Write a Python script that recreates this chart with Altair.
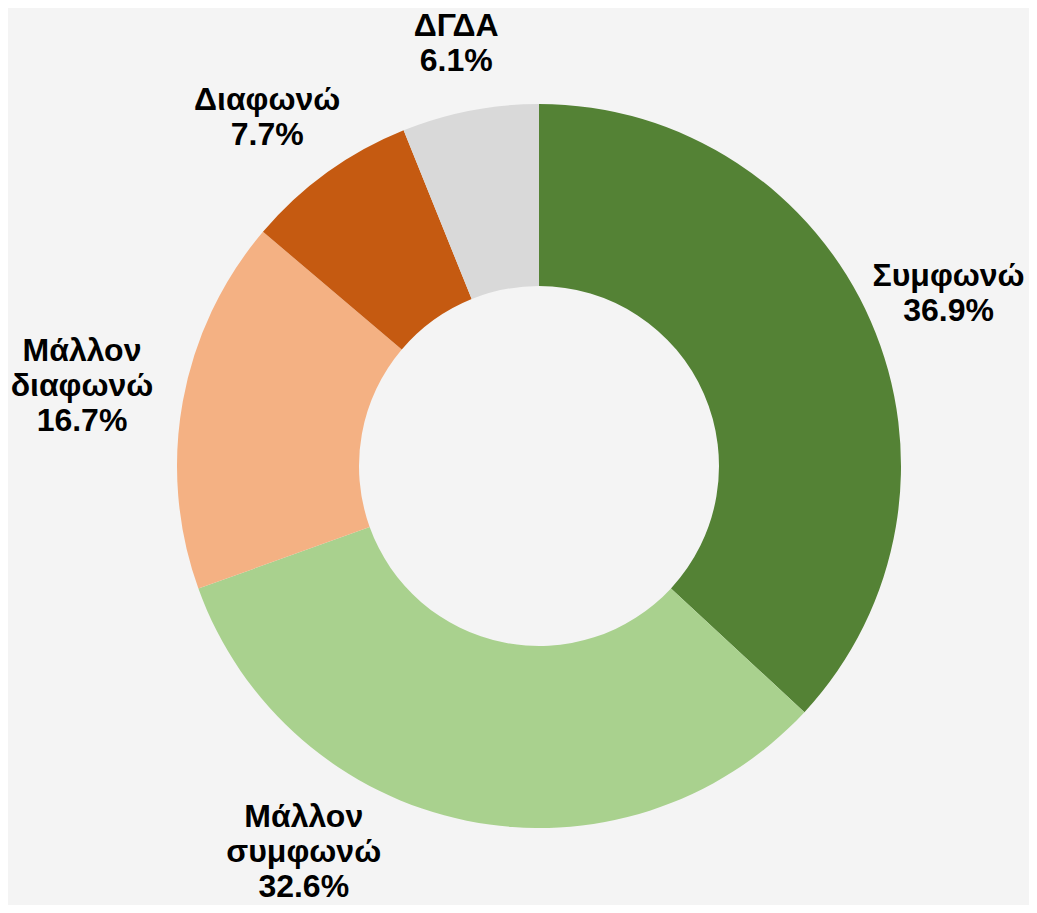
import altair as alt
import pandas as pd

categories = ["Συμφωνώ", "Μάλλον συμφωνώ", "Μάλλον διαφωνώ", "Διαφωνώ", "ΔΓΔΑ"]
display_names = ["Συμφωνώ", "Μάλλον\nσυμφωνώ", "Μάλλον\nδιαφωνώ", "Διαφωνώ", "ΔΓΔΑ"]
values = [36.9, 32.6, 16.7, 7.7, 6.1]
colors = ["#548235", "#a9d18e", "#f4b183", "#c55a11", "#d9d9d9"]

df = pd.DataFrame({
    "cat": categories,
    "name": display_names,
    "value": values,
    "idx": list(range(len(categories))),
})

W, H = 1021, 897
CX, CY = 531, 458
R_OUT, R_IN = 362, 180
R0 = 395          # label anchor radius
RC = 372          # clearance radius when a label is pushed inside the frame
FS, LH = 32, 35   # font size, line height
CW = 0.62 * FS    # approx char width
YMAX = 896        # max bottom of label box
XMAX = 1010       # max right of label box

base = alt.Chart(df)

arcs = base.mark_arc(innerRadius=R_IN, outerRadius=R_OUT, stroke=None).encode(
    theta=alt.Theta("value:Q", stack=True),
    order=alt.Order("idx:O"),
    color=alt.Color("cat:N", scale=alt.Scale(domain=categories, range=colors), legend=None),
    x=alt.value(CX),
    y=alt.value(CY),
)

labels = base.transform_window(
    cum="sum(value)", sort=[alt.SortField("idx")], frame=[None, 0]
).transform_joinaggregate(
    total="sum(value)"
).transform_calculate(
    mid="(datum.cum - datum.value/2) / datum.total * 2 * PI",
    s="sin(datum.mid)",
    c="cos(datum.mid)",
    label="datum.name + '\\n' + format(datum.value, '.1f') + '%'",
).transform_calculate(
    parts="split(datum.label, '\\n')",
).transform_calculate(
    n="length(datum.parts)",
    mc="max(length(datum.parts[0]), length(datum.parts[1]), length(datum.parts) > 2 ? length(datum.parts[2]) : 0)",
).transform_calculate(
    w=f"datum.mc * {CW}",
    h=f"datum.n * {LH}",
).transform_calculate(
    bx=f"min({CX} + ({R0} + datum.w/2) * datum.s, {XMAX} - datum.w/2)",
    by=f"{CY} - {R0} * datum.c - datum.h/2 * datum.c",
).transform_calculate(
    clamped=f"datum.by > {YMAX} - datum.h/2",
    by2=f"min(datum.by, {YMAX} - datum.h/2)",
).transform_calculate(
    bx2=f"datum.clamped ? {CX} + (datum.s < 0 ? -1 : 1) * (sqrt(max(0, {RC}*{RC} - pow(datum.by2 - datum.h/2 - {CY}, 2))) + datum.w/2) : datum.bx",
    ly=f"datum.by2 - (datum.n - 1) * {LH} / 2",
).mark_text(
    font="Liberation Sans", fontSize=FS, fontWeight="bold", color="#000000",
    align="center", baseline="middle", lineBreak="\n", lineHeight=LH,
).encode(
    x=alt.X("bx2:Q", scale=None),
    y=alt.Y("ly:Q", scale=None),
    text="label:N",
)

chart = alt.layer(arcs, labels).properties(
    width=W, height=H,
    autosize=alt.AutoSizeParams(type="none"),
    padding=0,
    background="#f4f4f4",
).configure_view(stroke=None)

chart.save("out.html", embed_options={"renderer": "svg", "actions": False})
